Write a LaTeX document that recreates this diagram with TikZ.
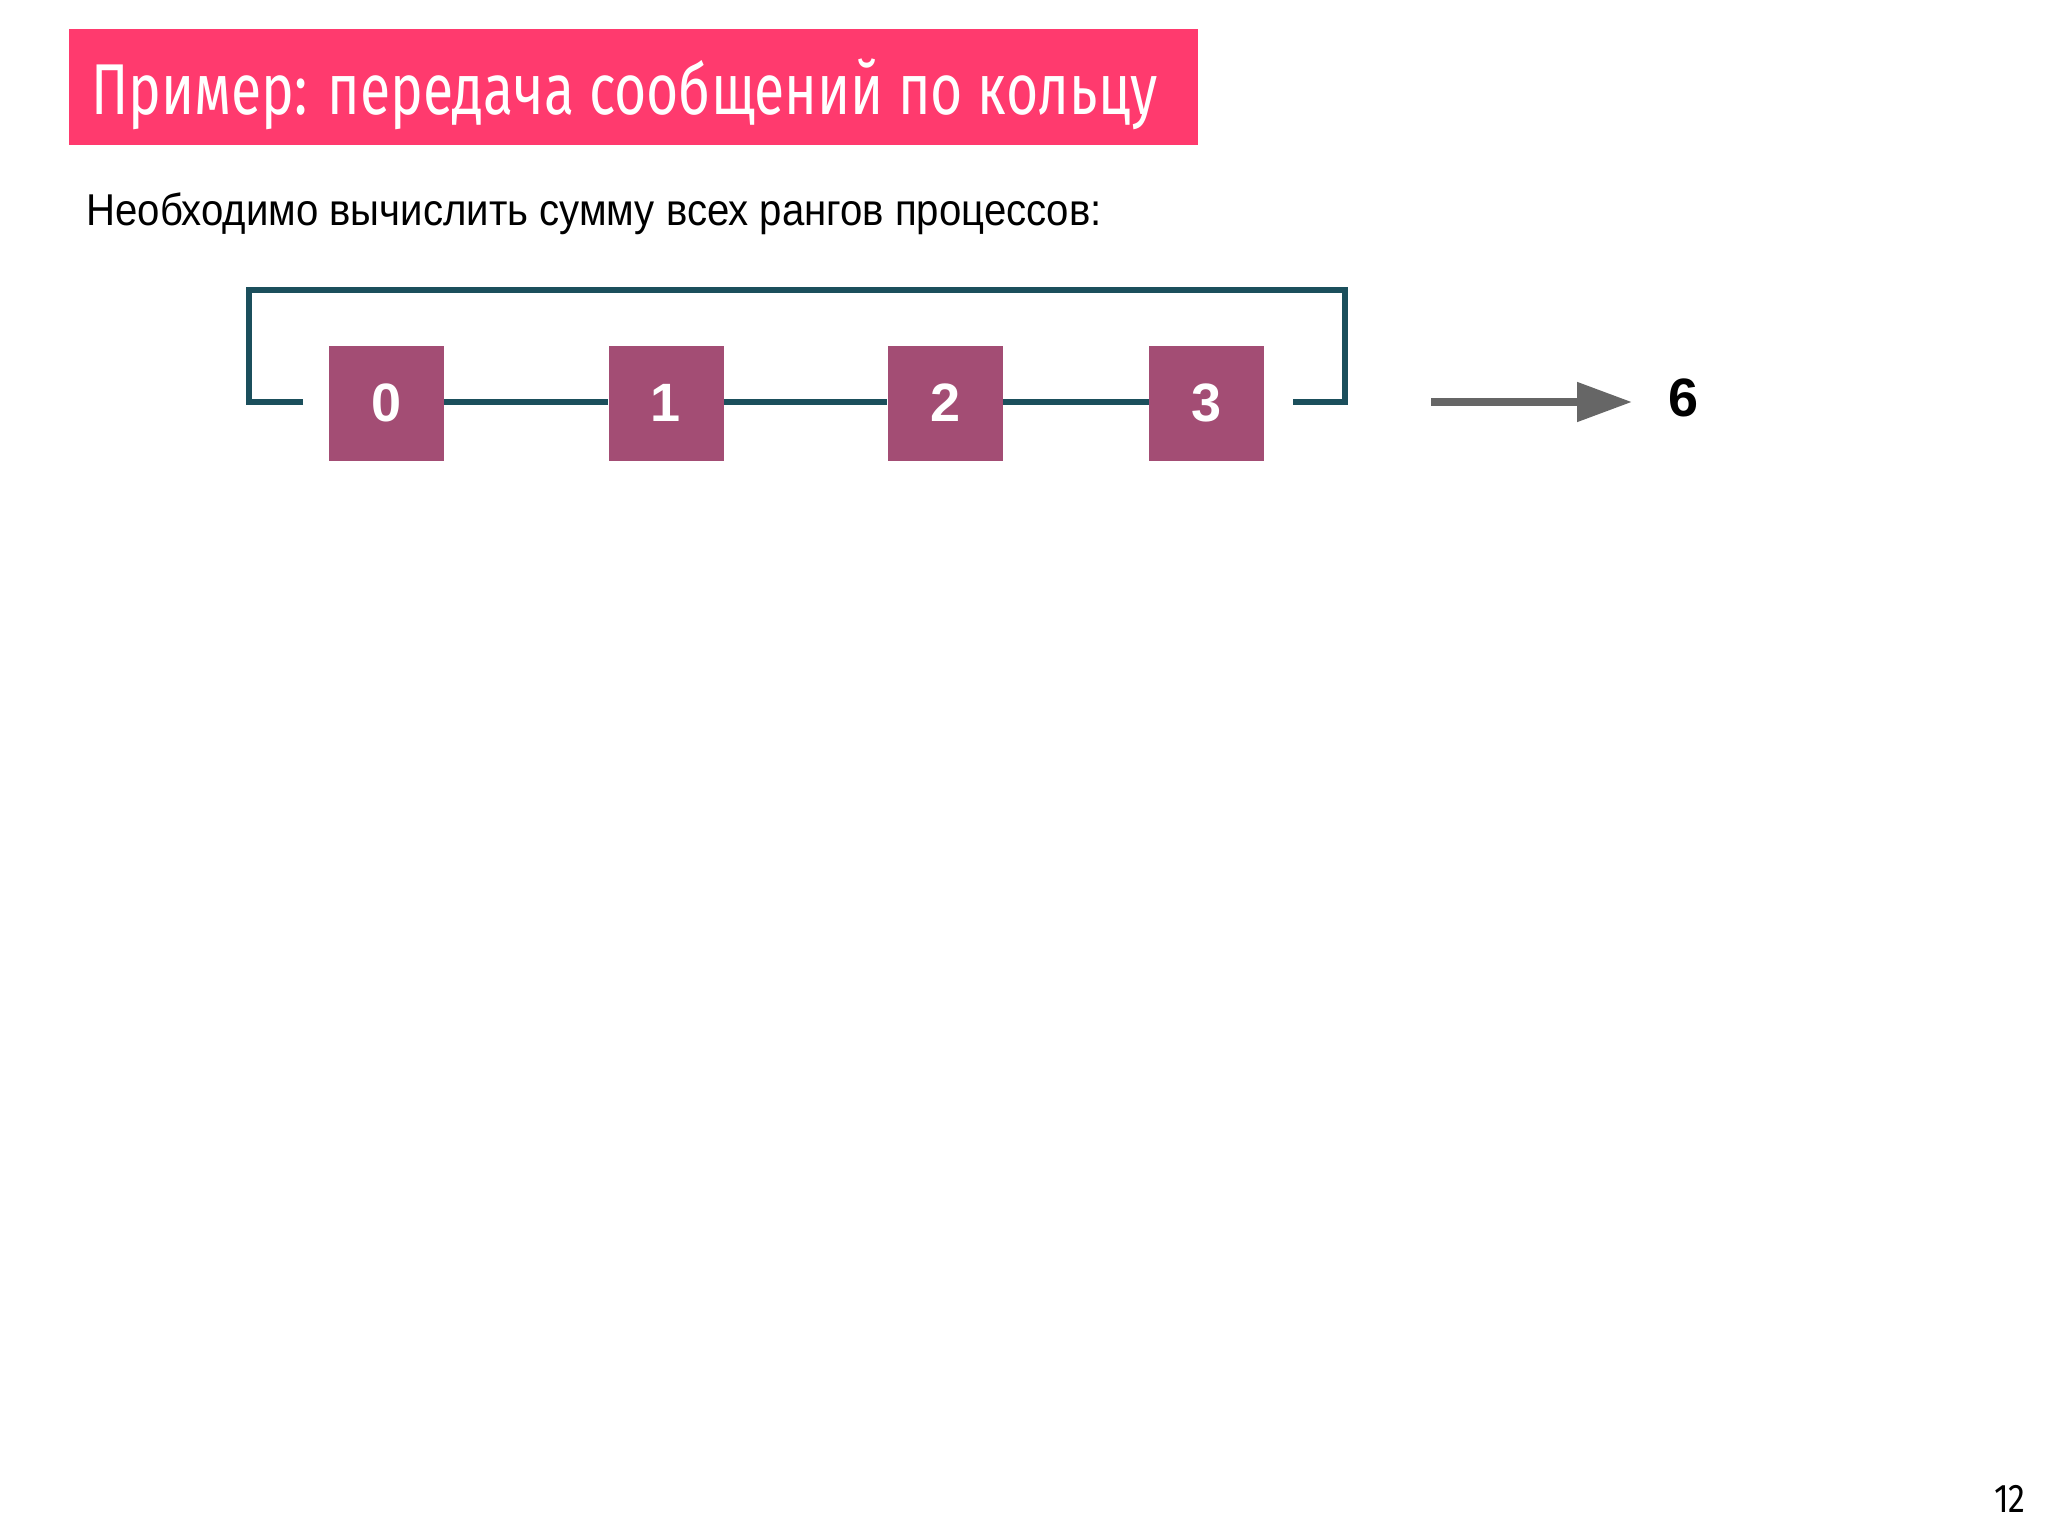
\documentclass[tikz,border=0pt]{standalone}
\usepackage{fontspec}
\setmainfont{Liberation Sans}
\newfontfamily\subfont[FakeStretch=0.9]{Liberation Sans}
\newfontfamily\titlefont[FakeStretch=0.768]{Fira Sans}
\newfontfamily\pagefont[FakeStretch=0.85]{Fira Sans}
\usetikzlibrary{arrows.meta}
\definecolor{titlebg}{HTML}{FF3A6E}
\definecolor{boxfill}{HTML}{A34D74}
\definecolor{ringcol}{HTML}{1B4F5C}
\definecolor{arrowcol}{HTML}{666666}
\tikzset{
  rankbox/.style={fill=boxfill, minimum width=57.5pt, minimum height=57.5pt, inner sep=0pt,
    text=white, font=\fontsize{27}{27}\selectfont\bfseries},
  ring/.style={draw=ringcol, line width=2.6pt},
}
\begin{document}
\begin{tikzpicture}[x=0.5pt,y=-0.5pt]
\useasboundingbox (0,0) rectangle (2048,1536);
\fill[white] (0,0) rectangle (2048,1536);
% title
\node[fill=titlebg, minimum width=564.5pt, minimum height=58pt, inner sep=0pt, anchor=north west] (titlebar) at (69,29) {};
\node[anchor=base west, text=white, inner sep=0pt, font=\titlefont\fontsize{36}{36}\selectfont] (title) at (91,114) {Пример: передача сообщений по кольцу};
% subtitle
\node[anchor=base west, inner sep=0pt, font=\subfont\fontsize{22.3}{22.3}\selectfont] (sub) at (86,225) {Необходимо вычислить сумму всех рангов процессов:};
% boxes
\node[rankbox] (b0) at (386.5,403) {0};
\node[rankbox] (b1) at (666,403) {1};
\node[rankbox] (b2) at (945,403) {2};
\node[rankbox] (b3) at (1206.5,403) {3};
\coordinate (cL) at (303,402);
\coordinate (cR) at (1293,402);
\coordinate (tl) at (249,290);
\coordinate (tr) at (1345,290);
\draw[ring] (cL) -- (tl |- cL) -- (tl) -- (tr) -- (tr |- cR) -- (cR);
\draw[ring] (b0.east |- cL) -- (b1.west |- cL);
\draw[ring] (b1.east |- cL) -- (b2.west |- cL);
\draw[ring] (b2.east |- cL) -- (b3.west |- cL);
% result arrow
\coordinate (as) at (1431,402);
\node[anchor=center, inner sep=0pt, font=\fontsize{27}{27}\selectfont\bfseries] (res) at (1683,398) {6};
\coordinate (ae) at (1632,402);
\draw[draw=arrowcol, line width=4pt, -{Triangle[length=27.5pt, width=19pt, fill=arrowcol]}] (as) -- (ae);
% page number
\node[anchor=base east, inner sep=0pt, font=\pagefont\fontsize{20}{20}\selectfont] (page) at (2026,1512) {12};
\end{tikzpicture}
\end{document}
